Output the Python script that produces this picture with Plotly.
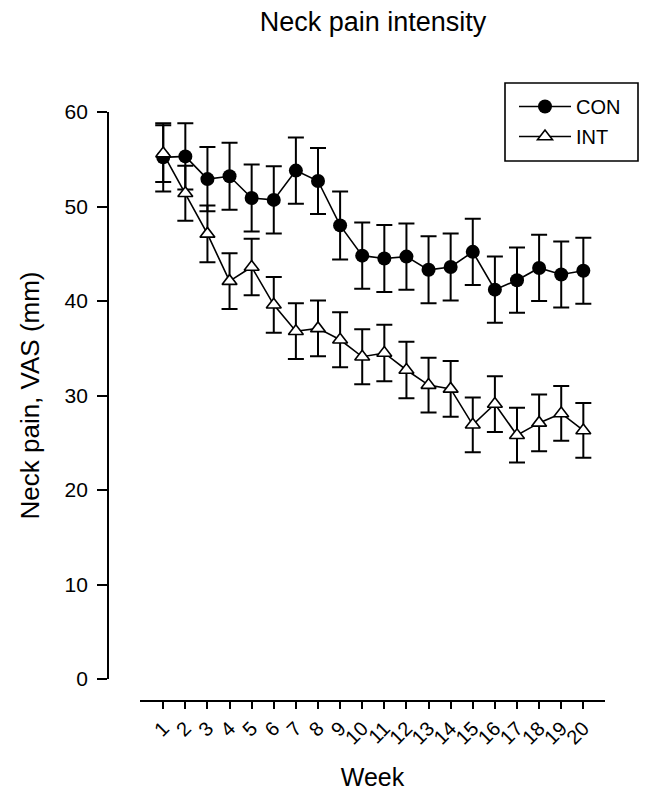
import plotly.graph_objects as go

weeks = list(range(1, 21))
tick_labels = [str(w) for w in weeks]
con_mean = [55.2, 55.3, 52.9, 53.2, 50.9, 50.7, 53.8, 52.7, 48.0, 44.8,
            44.5, 44.7, 43.3, 43.6, 45.2, 41.2, 42.2, 43.5, 42.8, 43.2]
con_se = [3.6, 3.5, 3.4, 3.55, 3.55, 3.55, 3.5, 3.5, 3.6, 3.5,
          3.55, 3.5, 3.55, 3.55, 3.5, 3.5, 3.45, 3.5, 3.5, 3.5]
int_mean = [55.6, 51.4, 47.1, 42.1, 43.6, 39.6, 36.8, 37.1, 35.9, 34.1,
            34.5, 32.7, 31.1, 30.7, 26.9, 29.1, 25.8, 27.1, 28.1, 26.3]
int_se = [3.0, 2.9, 3.0, 2.95, 3.0, 2.95, 2.95, 2.95, 2.9, 2.9,
          3.0, 3.0, 2.9, 2.95, 2.9, 2.95, 2.9, 3.0, 2.9, 2.9]

FONT = "Liberation Sans, Arial, sans-serif"

fig = go.Figure()
fig.add_trace(go.Scatter(
    x=weeks, y=con_mean, name="CON", mode="lines+markers",
    line=dict(color="black", width=1.6),
    marker=dict(symbol="circle", size=14, color="black"),
    error_y=dict(type="data", array=con_se, visible=True, color="black", thickness=2, width=8),
    legendgroup="a",
))
fig.add_trace(go.Scatter(
    x=weeks, y=int_mean, name="INT", mode="lines+markers",
    line=dict(color="black", width=1.6),
    marker=dict(symbol="triangle-up", size=13, color="white", line=dict(color="black", width=1.6)),
    error_y=dict(type="data", array=int_se, visible=True, color="black", thickness=2, width=8),
    legendgroup="b",
))

L, R, T, B = 108, 40, 112, 94
W = 645 - L - R
H = 795 - T - B

def px_x(p):
    return (p - L) / W

def px_y(p):
    return (795 - B - p) / H

fig.update_layout(
    width=645, height=795,
    margin=dict(l=L, r=R, t=T, b=B, autoexpand=False),
    paper_bgcolor="white", plot_bgcolor="white",
    font=dict(family=FONT, color="black", size=20),
    title=dict(text="Neck pain intensity", x=373 / 645, xref="container",
               y=1 - 22 / 795, yanchor="middle", xanchor="center",
               font=dict(size=27, family=FONT, color="black")),
    showlegend=True,
    legend=dict(x=px_x(514), y=px_y(87), xanchor="left", yanchor="top",
                font=dict(size=20, family=FONT), bgcolor="rgba(0,0,0,0)",
                borderwidth=0, tracegroupgap=1, itemwidth=52),
    xaxis=dict(domain=[px_x(140), 1], range=[-0.05, 20.98], anchor="free", position=0,
               tickmode="array", tickvals=weeks, ticktext=tick_labels, tickangle=-45,
               ticks="outside", ticklen=7, tickwidth=1.6, tickcolor="black",
               showline=True, linecolor="black", linewidth=1.8, showgrid=False, zeroline=False,
               tickfont=dict(size=20, family=FONT),
               title=dict(text="Week", font=dict(size=25, family=FONT), standoff=20)),
    yaxis=dict(domain=[px_y(679), 1], range=[0, 60], anchor="free", position=0,
               tickmode="array", tickvals=[0, 10, 20, 30, 40, 50, 60],
               ticks="outside", ticklen=10, tickwidth=1.6, tickcolor="black",
               ticklabelstandoff=5,
               showline=True, linecolor="black", linewidth=1.8, showgrid=False, zeroline=False,
               tickfont=dict(size=21, family=FONT),
               title=dict(text="Neck pain, VAS (mm)", font=dict(size=26, family=FONT), standoff=16)),
    shapes=[dict(type="rect", xref="paper", yref="paper",
                 x0=px_x(505), x1=px_x(638), y0=px_y(161), y1=px_y(83),
                 line=dict(color="black", width=1.6), fillcolor="rgba(0,0,0,0)")],
)

fig.write_html("out.html")
